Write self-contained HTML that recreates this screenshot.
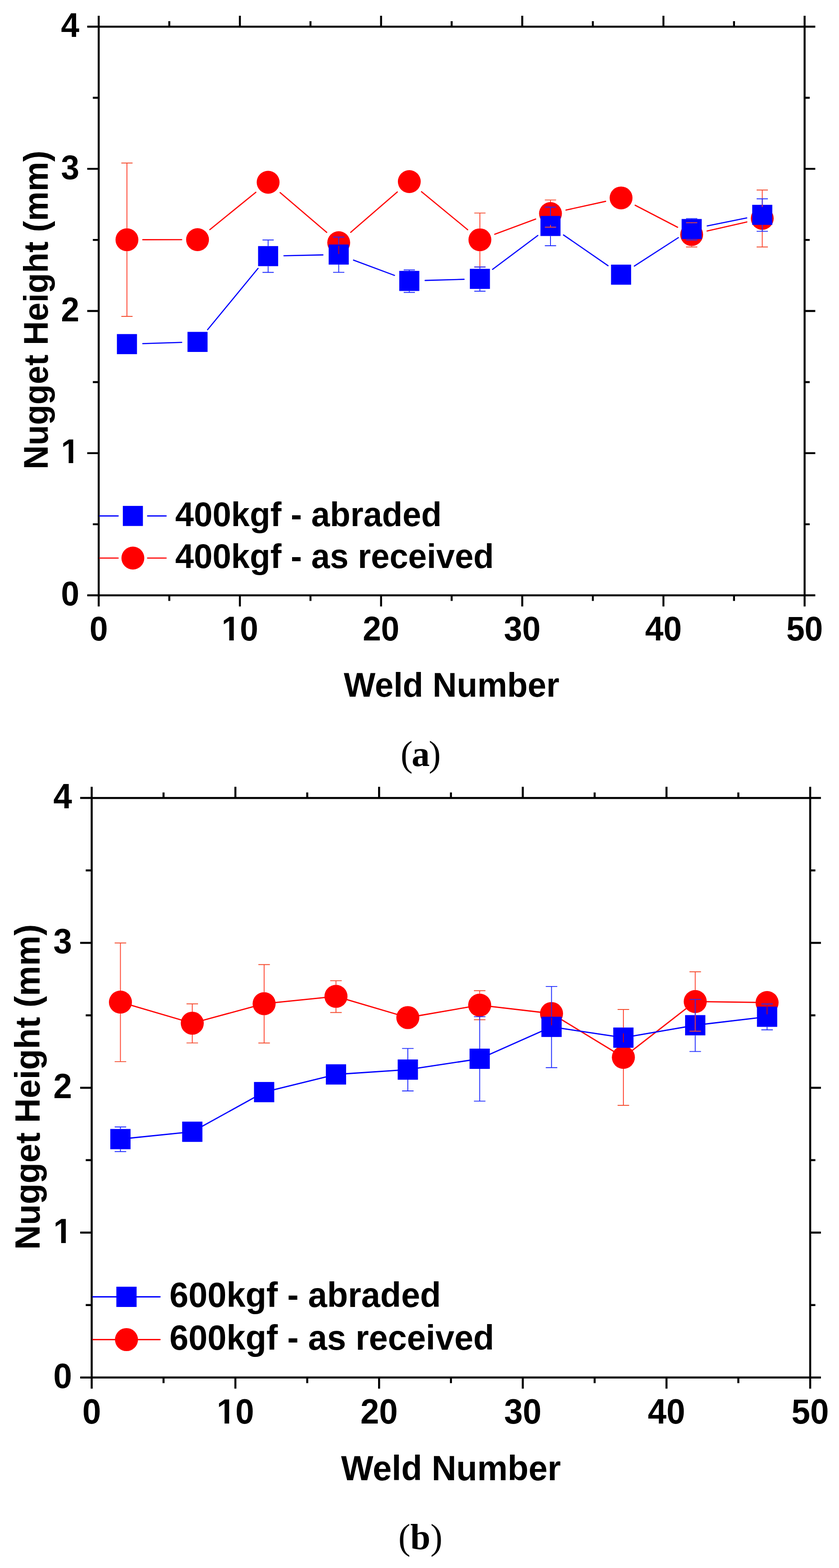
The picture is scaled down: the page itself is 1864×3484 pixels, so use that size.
<!DOCTYPE html>
<html><head><meta charset="utf-8"><title>Nugget Height vs Weld Number</title>
<style>html,body{margin:0;padding:0;background:#fff}svg{display:block}</style></head>
<body><svg width="1864" height="3484" viewBox="0 0 1864 3484">
<rect width="1864" height="3484" fill="#fff"/>
<rect x="219.3" y="59.3" width="1568.3" height="1263.5" fill="none" stroke="#000" stroke-width="4.4"/>
<path d="M219.3 1322.8V1347.5M219.3 59.3V35M376.13 1322.8V1335.2M376.13 59.3V47.1M532.96 1322.8V1347.5M532.96 59.3V35M689.79 1322.8V1335.2M689.79 59.3V47.1M846.62 1322.8V1347.5M846.62 59.3V35M1003.45 1322.8V1335.2M1003.45 59.3V47.1M1160.28 1322.8V1347.5M1160.28 59.3V35M1317.11 1322.8V1335.2M1317.11 59.3V47.1M1473.94 1322.8V1347.5M1473.94 59.3V35M1630.77 1322.8V1335.2M1630.77 59.3V47.1M1787.6 1322.8V1347.5M1787.6 59.3V35M219.3 1322.8H193.8M1787.6 1322.8H1811.3M219.3 1164.86H206.3M1787.6 1164.86H1798.9M219.3 1006.92H193.8M1787.6 1006.92H1811.3M219.3 848.99H206.3M1787.6 848.99H1798.9M219.3 691.05H193.8M1787.6 691.05H1811.3M219.3 533.11H206.3M1787.6 533.11H1798.9M219.3 375.17H193.8M1787.6 375.17H1811.3M219.3 217.24H206.3M1787.6 217.24H1798.9M219.3 59.3H193.8M1787.6 59.3H1811.3" stroke="#000" stroke-width="4.4" fill="none"/>
<clipPath id="c1a" clipPathUnits="userSpaceOnUse"><rect x="-146.4" y="-146.4" width="292.8" height="137.83"/><rect x="-23.63" y="-21.96" width="10.04" height="36.6"/><rect x="-0.88" y="-146.4" width="146.4" height="292.8"/></clipPath>
<text transform="translate(219.3 1423.4) scale(1 1.04)" text-anchor="middle" font-size="73.2" font-family="Liberation Sans, Arial, sans-serif" font-weight="bold">0</text>
<text transform="translate(532.96 1423.4) scale(1 1.04)" text-anchor="middle" font-size="73.2" font-family="Liberation Sans, Arial, sans-serif" font-weight="bold" clip-path="url(#c1a)">10</text>
<text transform="translate(846.62 1423.4) scale(1 1.04)" text-anchor="middle" font-size="73.2" font-family="Liberation Sans, Arial, sans-serif" font-weight="bold">20</text>
<text transform="translate(1160.28 1423.4) scale(1 1.04)" text-anchor="middle" font-size="73.2" font-family="Liberation Sans, Arial, sans-serif" font-weight="bold">30</text>
<text transform="translate(1473.94 1423.4) scale(1 1.04)" text-anchor="middle" font-size="73.2" font-family="Liberation Sans, Arial, sans-serif" font-weight="bold">40</text>
<text transform="translate(1787.6 1423.4) scale(1 1.04)" text-anchor="middle" font-size="73.2" font-family="Liberation Sans, Arial, sans-serif" font-weight="bold">50</text>
<text transform="translate(176.2 1345.3) scale(1 1.04)" text-anchor="end" font-size="73.2" font-family="Liberation Sans, Arial, sans-serif" font-weight="bold">0</text>
<text transform="translate(176.2 1029.42) scale(1 1.04)" text-anchor="end" font-size="73.2" font-family="Liberation Sans, Arial, sans-serif" font-weight="bold" clip-path="url(#c1a)">1</text>
<text transform="translate(176.2 713.55) scale(1 1.04)" text-anchor="end" font-size="73.2" font-family="Liberation Sans, Arial, sans-serif" font-weight="bold">2</text>
<text transform="translate(176.2 397.67) scale(1 1.04)" text-anchor="end" font-size="73.2" font-family="Liberation Sans, Arial, sans-serif" font-weight="bold">3</text>
<text transform="translate(176.2 81.8) scale(1 1.04)" text-anchor="end" font-size="73.2" font-family="Liberation Sans, Arial, sans-serif" font-weight="bold">4</text>
<text transform="translate(1003.2 1547.5) scale(1 1.03)" text-anchor="middle" font-size="74.56" font-family="Liberation Sans, Arial, sans-serif" font-weight="bold">Weld Number</text>
<text transform="translate(106 688.85) rotate(-90) scale(1 1.03)" text-anchor="middle" font-size="74.16" font-family="Liberation Sans, Arial, sans-serif" font-weight="bold">Nugget Height (mm)</text>
<path d="M317.23 532.66L403.66 532.54M466.17 510.3L568.38 427.2M622.44 427.89L725.78 516.31M779.14 516.17L882.73 426.53M936.51 425.89L1039.02 510.41M1099.17 520.52L1190.02 486.68M1257.39 466.82L1345.47 447.38M1411.08 456.02L1505.43 504.98M1570.98 513.35L1659.19 493.15" stroke="#ff0000" stroke-width="2.6" fill="none" stroke-linecap="round" stroke-linejoin="round"/>
<path d="M317.21 763.5L403.68 760.8M461.23 732.52L573.33 596.28M630.88 568.31L717.33 566.39M785.5 577.92L876.38 611.88M944.54 623.17L1031 620.63M1094.35 598.49L1194.84 523.21M1251.99 522.09L1350.87 590.31M1409.4 591.19L1507.11 528.01M1571.18 501.97L1658.99 484.33" stroke="#0000ff" stroke-width="2.6" fill="none" stroke-linecap="round" stroke-linejoin="round"/>
<circle cx="282.03" cy="532.7" r="25.4" fill="#ff0000"/>
<circle cx="438.86" cy="532.5" r="25.4" fill="#ff0000"/>
<circle cx="595.69" cy="405" r="25.4" fill="#ff0000"/>
<circle cx="752.52" cy="539.2" r="25.4" fill="#ff0000"/>
<circle cx="909.35" cy="403.5" r="25.4" fill="#ff0000"/>
<circle cx="1066.18" cy="532.8" r="25.4" fill="#ff0000"/>
<circle cx="1223.01" cy="474.4" r="25.4" fill="#ff0000"/>
<circle cx="1379.84" cy="439.8" r="25.4" fill="#ff0000"/>
<circle cx="1536.67" cy="521.2" r="25.4" fill="#ff0000"/>
<circle cx="1693.5" cy="485.3" r="25.4" fill="#ff0000"/>
<rect x="259.73" y="742.3" width="44.6" height="44.6" fill="#0000ff"/>
<rect x="416.56" y="737.4" width="44.6" height="44.6" fill="#0000ff"/>
<rect x="573.39" y="546.8" width="44.6" height="44.6" fill="#0000ff"/>
<rect x="730.22" y="543.3" width="44.6" height="44.6" fill="#0000ff"/>
<rect x="887.05" y="601.9" width="44.6" height="44.6" fill="#0000ff"/>
<rect x="1043.88" y="597.3" width="44.6" height="44.6" fill="#0000ff"/>
<rect x="1200.71" y="479.8" width="44.6" height="44.6" fill="#0000ff"/>
<rect x="1357.54" y="588" width="44.6" height="44.6" fill="#0000ff"/>
<rect x="1514.37" y="486.6" width="44.6" height="44.6" fill="#0000ff"/>
<rect x="1671.2" y="455.1" width="44.6" height="44.6" fill="#0000ff"/>
<path d="M282.03 507.3V362.3M282.03 558.1V703M1066.18 507.4V473.4M1066.18 558.2V593.3M1223.01 449V444.4M1223.01 499.8V504.7M1536.67 495.8V494.9M1536.67 546.6V548.8M1693.5 459.9V422.3M1693.5 510.7V548.8" stroke="#ff4430" stroke-width="1.9" fill="none"/>
<path d="M269.53 362.3H294.53M269.53 703H294.53M1053.68 473.4H1078.68M1053.68 593.3H1078.68M1210.51 444.4H1235.51M1210.51 504.7H1235.51M1524.17 494.9H1549.17M1524.17 548.8H1549.17M1681 422.3H1706M1681 548.8H1706" stroke="#f44e30" stroke-width="1.9" fill="none"/>
<path d="M595.69 546.8V533.3M595.69 591.4V605.3M752.52 543.3V526.7M752.52 587.9V605.1M909.35 601.9V599.8M909.35 646.5V649.7M1066.18 597.3V593.3M1066.18 641.9V647M1223.01 479.8V460.2M1223.01 524.4V546M1536.67 486.6V485.6M1536.67 531.2V533.3M1693.5 455.1V441.7M1693.5 499.7V513.9" stroke="#1f2cff" stroke-width="1.9" fill="none"/>
<path d="M583.19 533.3H608.19M583.19 605.3H608.19M740.02 526.7H765.02M740.02 605.1H765.02M896.85 599.8H921.85M896.85 649.7H921.85M1053.68 593.3H1078.68M1053.68 647H1078.68M1210.51 460.2H1235.51M1210.51 546H1235.51M1524.17 485.6H1549.17M1524.17 533.3H1549.17M1681 441.7H1706M1681 513.9H1706" stroke="#1f2cff" stroke-width="1.9" fill="none"/>
<path d="M752.52 545.9V564.4" stroke="#d4000c" stroke-width="1.9"/>
<path d="M221.5 1146.4H262.5M327.9 1146.4H369.1" stroke="#0000ff" stroke-width="2.6" stroke-linecap="round"/>
<rect x="272.9" y="1124.1" width="44.6" height="44.6" fill="#0000ff"/>
<text transform="translate(389.3 1168.6) scale(1 1.03)" font-size="74.5" font-family="Liberation Sans, Arial, sans-serif" font-weight="bold">400kgf - abraded</text>
<path d="M221.5 1240H262.5M327.9 1240H369.1" stroke="#ff0000" stroke-width="2.6" stroke-linecap="round"/>
<circle cx="295.2" cy="1240" r="25.4" fill="#ff0000"/>
<text transform="translate(389.3 1262) scale(1 1.03)" font-size="74.5" font-family="Liberation Sans, Arial, sans-serif" font-weight="bold">400kgf - as received</text>
<rect x="203.7" y="1773.1" width="1596.3" height="1287.6" fill="none" stroke="#000" stroke-width="4.48"/>
<path d="M203.7 3060.7V3085.5M203.7 1773.1V1748.2M363.33 3060.7V3073.3M363.33 1773.1V1760.7M522.96 3060.7V3085.5M522.96 1773.1V1748.2M682.59 3060.7V3073.3M682.59 1773.1V1760.7M842.22 3060.7V3085.5M842.22 1773.1V1748.2M1001.85 3060.7V3073.3M1001.85 1773.1V1760.7M1161.48 3060.7V3085.5M1161.48 1773.1V1748.2M1321.11 3060.7V3073.3M1321.11 1773.1V1760.7M1480.74 3060.7V3085.5M1480.74 1773.1V1748.2M1640.37 3060.7V3073.3M1640.37 1773.1V1760.7M1800 3060.7V3085.5M1800 1773.1V1748.2M203.7 3060.7H178.1M1800 3060.7H1823.9M203.7 2899.75H190.5M1800 2899.75H1811.5M203.7 2738.8H178.1M1800 2738.8H1823.9M203.7 2577.85H190.5M1800 2577.85H1811.5M203.7 2416.9H178.1M1800 2416.9H1823.9M203.7 2255.95H190.5M1800 2255.95H1811.5M203.7 2095H178.1M1800 2095H1823.9M203.7 1934.05H190.5M1800 1934.05H1811.5M203.7 1773.1H178.1M1800 1773.1H1823.9" stroke="#000" stroke-width="4.48" fill="none"/>
<clipPath id="c1b" clipPathUnits="userSpaceOnUse"><rect x="-149.18" y="-149.18" width="298.36" height="140.45"/><rect x="-24.07" y="-22.38" width="10.23" height="37.3"/><rect x="-0.9" y="-149.18" width="149.18" height="298.36"/></clipPath>
<text transform="translate(203.7 3163.02) scale(1 1.04)" text-anchor="middle" font-size="74.59" font-family="Liberation Sans, Arial, sans-serif" font-weight="bold">0</text>
<text transform="translate(522.96 3163.02) scale(1 1.04)" text-anchor="middle" font-size="74.59" font-family="Liberation Sans, Arial, sans-serif" font-weight="bold" clip-path="url(#c1b)">10</text>
<text transform="translate(842.22 3163.02) scale(1 1.04)" text-anchor="middle" font-size="74.59" font-family="Liberation Sans, Arial, sans-serif" font-weight="bold">20</text>
<text transform="translate(1161.48 3163.02) scale(1 1.04)" text-anchor="middle" font-size="74.59" font-family="Liberation Sans, Arial, sans-serif" font-weight="bold">30</text>
<text transform="translate(1480.74 3163.02) scale(1 1.04)" text-anchor="middle" font-size="74.59" font-family="Liberation Sans, Arial, sans-serif" font-weight="bold">40</text>
<text transform="translate(1800 3163.02) scale(1 1.04)" text-anchor="middle" font-size="74.59" font-family="Liberation Sans, Arial, sans-serif" font-weight="bold">50</text>
<text transform="translate(160 3083.63) scale(1 1.04)" text-anchor="end" font-size="74.59" font-family="Liberation Sans, Arial, sans-serif" font-weight="bold">0</text>
<text transform="translate(160 2761.73) scale(1 1.04)" text-anchor="end" font-size="74.59" font-family="Liberation Sans, Arial, sans-serif" font-weight="bold" clip-path="url(#c1b)">1</text>
<text transform="translate(160 2439.83) scale(1 1.04)" text-anchor="end" font-size="74.59" font-family="Liberation Sans, Arial, sans-serif" font-weight="bold">2</text>
<text transform="translate(160 2117.93) scale(1 1.04)" text-anchor="end" font-size="74.59" font-family="Liberation Sans, Arial, sans-serif" font-weight="bold">3</text>
<text transform="translate(160 1796.03) scale(1 1.04)" text-anchor="end" font-size="74.59" font-family="Liberation Sans, Arial, sans-serif" font-weight="bold">4</text>
<text transform="translate(1001.85 3288.8) scale(1 1.03)" text-anchor="middle" font-size="75.98" font-family="Liberation Sans, Arial, sans-serif" font-weight="bold">Weld Number</text>
<text transform="translate(88.4 2415.1) rotate(-90) scale(1 1.03)" text-anchor="middle" font-size="75.7" font-family="Liberation Sans, Arial, sans-serif" font-weight="bold">Nugget Height (mm)</text>
<path d="M267.55 2226.7 L427.18 2273.5 L586.81 2230.2 L746.44 2213.9 L906.07 2261 L1065.7 2233.3 L1225.33 2252 L1384.96 2349.3 L1544.59 2225.4 L1704.22 2227.7" stroke="#ff0000" stroke-width="2.8" fill="none" stroke-linecap="butt" stroke-linejoin="round"/>
<path d="M267.55 2531 L427.18 2514.7 L586.81 2426.6 L746.44 2387.3 L906.07 2376.6 L1065.7 2352.5 L1225.33 2281.6 L1384.96 2305.6 L1544.59 2278 L1704.22 2259.1" stroke="#0000ff" stroke-width="2.8" fill="none" stroke-linecap="butt" stroke-linejoin="round"/>
<circle cx="267.55" cy="2226.7" r="25.6" fill="#ff0000"/>
<circle cx="427.18" cy="2273.5" r="25.6" fill="#ff0000"/>
<circle cx="586.81" cy="2230.2" r="25.6" fill="#ff0000"/>
<circle cx="746.44" cy="2213.9" r="25.6" fill="#ff0000"/>
<circle cx="906.07" cy="2261" r="25.6" fill="#ff0000"/>
<circle cx="1065.7" cy="2233.3" r="25.6" fill="#ff0000"/>
<circle cx="1225.33" cy="2252" r="25.6" fill="#ff0000"/>
<circle cx="1384.96" cy="2349.3" r="25.6" fill="#ff0000"/>
<circle cx="1544.59" cy="2225.4" r="25.6" fill="#ff0000"/>
<circle cx="1704.22" cy="2227.7" r="25.6" fill="#ff0000"/>
<rect x="245.05" y="2508.5" width="45" height="45" fill="#0000ff"/>
<rect x="404.68" y="2492.2" width="45" height="45" fill="#0000ff"/>
<rect x="564.31" y="2404.1" width="45" height="45" fill="#0000ff"/>
<rect x="723.94" y="2364.8" width="45" height="45" fill="#0000ff"/>
<rect x="883.57" y="2354.1" width="45" height="45" fill="#0000ff"/>
<rect x="1043.2" y="2330" width="45" height="45" fill="#0000ff"/>
<rect x="1202.83" y="2259.1" width="45" height="45" fill="#0000ff"/>
<rect x="1362.46" y="2283.1" width="45" height="45" fill="#0000ff"/>
<rect x="1522.09" y="2255.5" width="45" height="45" fill="#0000ff"/>
<rect x="1681.72" y="2236.6" width="45" height="45" fill="#0000ff"/>
<path d="M267.55 2201.1V2095.3M267.55 2252.3V2358.9M427.18 2247.9V2230.5M427.18 2299.1V2317.4M586.81 2204.6V2143.2M586.81 2255.8V2317.5M746.44 2188.3V2179.1M746.44 2239.5V2249.8M1065.7 2207.7V2201.3M1065.7 2258.9V2265.7M1384.96 2243V2283.6M1384.96 2374.9V2456M1544.59 2199.8V2159.2M1544.59 2251V2291.3" stroke="#ff4430" stroke-width="1.9" fill="none"/>
<path d="M254.75 2095.3H280.35M254.75 2358.9H280.35M414.38 2230.5H439.98M414.38 2317.4H439.98M574.01 2143.2H599.61M574.01 2317.5H599.61M733.64 2179.1H759.24M733.64 2249.8H759.24M1052.9 2201.3H1078.5M1052.9 2265.7H1078.5M1372.16 2243H1397.76M1372.16 2456H1397.76M1531.79 2159.2H1557.39M1531.79 2291.3H1557.39" stroke="#f44e30" stroke-width="1.9" fill="none"/>
<path d="M267.55 2508.5V2504M267.55 2553.5V2558.7M906.07 2354.1V2329.6M906.07 2399.1V2424M1065.7 2330V2259.1M1065.7 2375V2446.6M1225.33 2259.1V2191.9M1225.33 2304.1V2372.3M1544.59 2255.5V2220.6M1544.59 2300.5V2336.4M1704.22 2236.6V2230.8M1704.22 2281.6V2288.3" stroke="#1f2cff" stroke-width="1.9" fill="none"/>
<path d="M254.75 2504H280.35M254.75 2558.7H280.35M893.27 2329.6H918.87M893.27 2424H918.87M1052.9 2259.1H1078.5M1052.9 2446.6H1078.5M1212.53 2191.9H1238.13M1212.53 2372.3H1238.13M1531.79 2220.6H1557.39M1531.79 2336.4H1557.39M1691.42 2230.8H1717.02M1691.42 2288.3H1717.02" stroke="#1f2cff" stroke-width="1.9" fill="none"/>
<path d="M1225.33 2261.3V2278.3" stroke="#d4000c" stroke-width="1.9"/>
<path d="M1384.96 2296.2V2316" stroke="#d4000c" stroke-width="1.9"/>
<path d="M1704.22 2233.2V2253.6" stroke="#d4000c" stroke-width="1.9"/>
<path d="M206.4 2881.5H355.5" stroke="#0000ff" stroke-width="2.8" stroke-linecap="round"/>
<rect x="258.5" y="2859" width="45" height="45" fill="#0000ff"/>
<text transform="translate(376.62 2904) scale(1 1.03)" font-size="75.9" font-family="Liberation Sans, Arial, sans-serif" font-weight="bold">600kgf - abraded</text>
<path d="M206.4 2976.5H355.5" stroke="#ff0000" stroke-width="2.8" stroke-linecap="round"/>
<circle cx="281" cy="2976.5" r="25.6" fill="#ff0000"/>
<text transform="translate(376.62 2999) scale(1 1.03)" font-size="75.9" font-family="Liberation Sans, Arial, sans-serif" font-weight="bold">600kgf - as received</text>
<text x="890" y="1701.5" font-size="80.5" style='font-family:"Liberation Serif","Times New Roman",serif' letter-spacing="-2.25">(<tspan font-weight="bold">a</tspan>)</text>
<text x="884.9" y="3441.5" font-size="80.5" style='font-family:"Liberation Serif","Times New Roman",serif' letter-spacing="-0.15">(<tspan font-weight="bold">b</tspan>)</text>
</svg></body></html>
